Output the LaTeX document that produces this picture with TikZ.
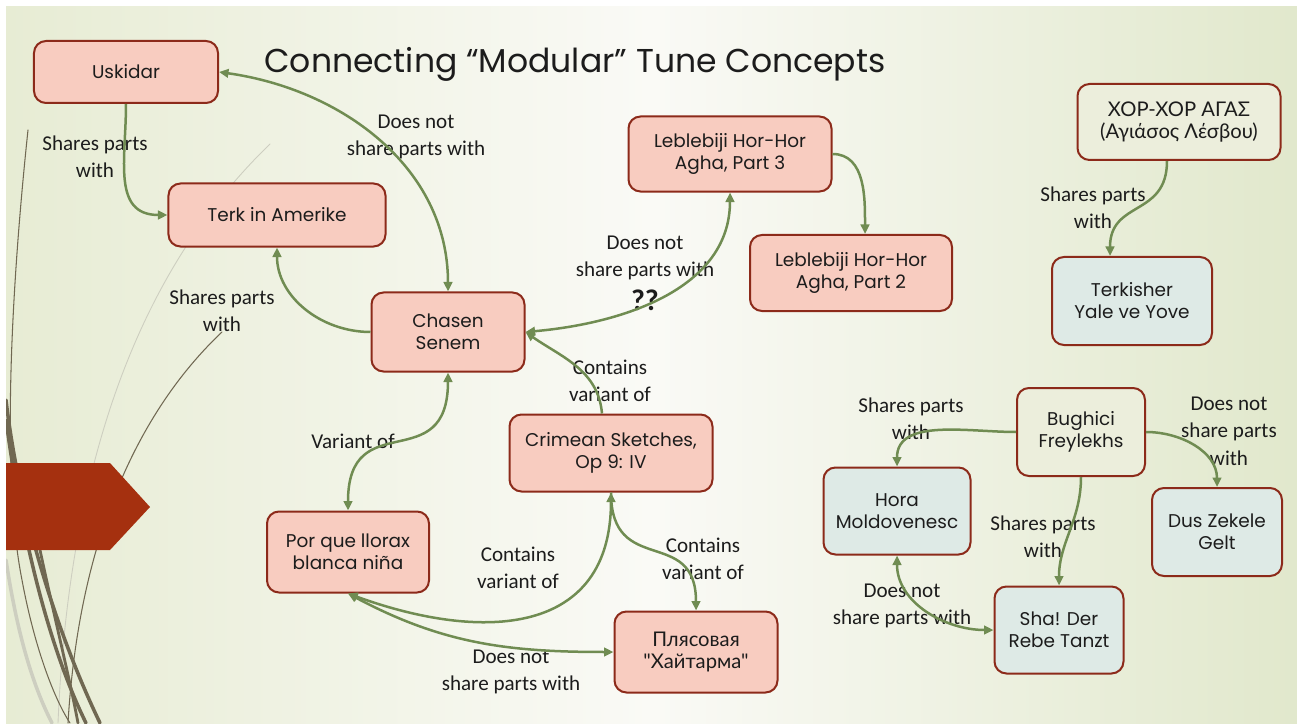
\documentclass[tikz,border=0pt]{standalone}
\usepackage{fontspec}
\setmainfont{Carlito}
\newfontfamily\boxfont{Poppins}
\newfontfamily\boxfontx{Lato}
\usetikzlibrary{arrows.meta}
\definecolor{rose}{RGB}{248,204,192}
\definecolor{mist}{RGB}{222,234,230}
\definecolor{sand}{RGB}{236,238,220}
\definecolor{rust}{RGB}{140,42,26}
\definecolor{moss}{RGB}{112,140,82}
\definecolor{flag}{RGB}{165,48,15}
\definecolor{bark}{RGB}{112,104,82}
\definecolor{haze}{RGB}{205,206,192}
\definecolor{ink}{RGB}{28,28,28}
\definecolor{bgedge}{RGB}{231,236,212}
\definecolor{bgmid}{RGB}{250,250,246}
\definecolor{bgright}{RGB}{225,232,204}
\tikzset{
  >={Triangle[length=1.9mm,width=1.7mm]},
  tune/.style={draw=rust,fill=#1,rounded corners=2.4mm,line width=0.4mm,
    align=center,font=\boxfont\fontsize{10.5}{12.5}\selectfont,text=ink,inner sep=1pt},
  tune/.default=rose,
  link/.style={draw=moss,line width=0.5mm},
  lab/.style={font=\fontsize{12}{15.6}\selectfont,align=center,text=ink,inner sep=0pt},
  deco/.style={draw=#1,line cap=round},
  deco/.default=bark,
}

\begin{document}
\begin{tikzpicture}[x=0.2mm,y=0.2mm]
  \useasboundingbox (0,0) rectangle (1297,-727);
  \fill[white] (0,0) rectangle (1297,-727);
  \fill[left color=bgedge,right color=bgright,middle color=bgmid] (6,-7) rectangle (1297,-723);

  % decoration on the left
  \begin{scope}
    \clip (6,-7) rectangle (1297,-723);
    \draw[deco=haze,line width=0.5pt] (270,-144) .. controls (150,-260) and (70,-440) .. (58,-723);
    \draw[deco=haze,line width=2pt] (6,-560) .. controls (18,-640) and (35,-690) .. (52,-723);
    \draw[deco,line width=0.6pt] (28,-130) .. controls (10,-300) and (2,-480) .. (22,-580) .. controls (35,-650) and (55,-700) .. (70,-723);
    \draw[deco,line width=0.6pt] (222,-332) .. controls (150,-400) and (80,-520) .. (68,-723);
    \draw[deco,line width=2pt] (6,-400) .. controls (20,-520) and (60,-640) .. (100,-723);
    \draw[deco,line width=2pt] (6,-420) .. controls (25,-560) and (55,-660) .. (86,-723);
    \draw[deco,line width=1.6pt] (40,-550) .. controls (55,-620) and (70,-680) .. (78,-723);
  \end{scope}
  \fill[flag] (6,-463) -- (110,-463) -- (150,-507) -- (110,-550) -- (6,-550) -- cycle;

  \node[font=\boxfont\fontsize{18.8}{23}\selectfont,text=ink,anchor=base] (title) at (575,-73) {Connecting “Modular” Tune Concepts};

  % tunes
  \node[tune,minimum width=36.8mm,minimum height=12.4mm] (usk) at (126,-72) {Uskidar};
  \node[tune,minimum width=43.4mm,minimum height=12.6mm] (terk) at (277,-215) {Terk in Amerike};
  \node[tune,minimum width=30.6mm,minimum height=15.8mm] (chasen) at (448,-332) {Chasen\\Senem};
  \node[tune,minimum width=40.6mm,minimum height=15mm] (leb3) at (730,-154) {Leblebiji Hor-Hor\\Agha, Part 3};
  \node[tune,minimum width=40.4mm,minimum height=15.2mm] (leb2) at (851,-273) {Leblebiji Hor-Hor\\Agha, Part 2};
  \node[tune,minimum width=40.6mm,minimum height=15.4mm] (crimea) at (611,-453) {Crimean Sketches,\\Op 9: IV};
  \node[tune,minimum width=32.4mm,minimum height=16.2mm] (por) at (348,-552) {Por que llorax\\blanca niña};
  \node[tune,minimum width=32.6mm,minimum height=16.2mm,font=\boxfontx\fontsize{11.5}{12.8}\selectfont] (plyas) at (696,-652) {Плясовая\\"Хайтарма"};
  \node[tune=sand,minimum width=40.6mm,minimum height=15.2mm,font=\boxfontx\fontsize{11.5}{12.8}\selectfont] (xop) at (1179,-122) {ΧΟΡ-ΧΟΡ ΑΓΑΣ\\(Αγιάσος Λέσβου)};
  \node[tune=mist,minimum width=32mm,minimum height=17.6mm] (yale) at (1132,-301) {Terkisher\\Yale ve Yove};
  \node[tune=sand,minimum width=25.6mm,minimum height=17.6mm] (bug) at (1081,-432) {Bughici\\Freylekhs};
  \node[tune=mist,minimum width=29.4mm,minimum height=17.4mm] (hora) at (897,-511) {Hora\\Moldovenesc};
  \node[tune=mist,minimum width=26mm,minimum height=17.6mm] (dus) at (1217,-532) {Dus Zekele\\Gelt};
  \node[tune=mist,minimum width=25.8mm,minimum height=17.4mm] (sha) at (1059,-630) {Sha! Der\\Rebe Tanzt};

  % labels
  \node[lab] (l1) at (95,-157) {Shares parts\\with};
  \node[lab] (l2) at (416,-137) {Does not\\share parts with};
  \node[lab] (l3) at (222,-311) {Shares parts\\with};
  \node[lab] (l4) at (645,-258) {Does not\\share parts with};
  \node[lab,font=\fontsize{17}{17}\selectfont\bfseries] (qq) at (645,-300) {??};
  \node[lab] (l5) at (610,-381) {Contains\\variant of};
  \node[lab] (l6) at (353,-441) {Variant of};
  \node[lab] (l7) at (518,-568) {Contains\\variant of};
  \node[lab] (l8) at (703,-559) {Contains\\variant of};
  \node[lab] (l9) at (511,-672) {Does not\\share parts with};
  \node[lab] (l10) at (1093,-208) {Shares parts\\with};
  \node[lab] (l11) at (911,-419) {Shares parts\\with};
  \node[lab] (l12) at (1229,-431) {Does not\\share parts\\with};
  \node[lab] (l13) at (1043,-537) {Shares parts\\with};
  \node[lab] (l14) at (902,-606) {Does not\\share parts with};

  % connections
  \draw[link,<->] (usk.east) to[out=-8,in=90] (chasen.north);
  \draw[link,->] (usk.south) to[out=-90,in=180,looseness=1.2] (terk.west);
  \draw[link,->] (chasen.west) to[out=180,in=-90] (terk.south);
  \draw[link,<->] (chasen.east) to[out=5,in=-90] (leb3.south);
  \draw[link,->] (leb3.east) to[out=0,in=90] ([xshift=2.8mm]leb2.north);
  \draw[link,->] ([xshift=-1.8mm]crimea.north) to[out=95,in=-35] (chasen.east);
  \draw[link,<->] (por.north) to[out=90,in=-90,looseness=1.6] (chasen.south);
  \draw[link,<->] (por.south) to[out=-20,in=-90,looseness=1.3] (crimea.south);
  \draw[link,<->] (por.south) to[out=-28,in=180] (plyas.west);
  \draw[link,->] (crimea.south) to[out=-90,in=90,looseness=1.5] (plyas.north);
  \draw[link,->] ([xshift=-2.4mm]xop.south) to[out=-90,in=90,looseness=1.3] ([xshift=-4.4mm]yale.north);
  \draw[link,->] (bug.west) to[out=180,in=90] (hora.north);
  \draw[link,->] (bug.east) to[out=0,in=90] (dus.north);
  \draw[link,->] (bug.south) to[out=-90,in=90] (sha.north);
  \draw[link,<->] (hora.south) to[out=-90,in=180] (sha.west);
\end{tikzpicture}
\end{document}
